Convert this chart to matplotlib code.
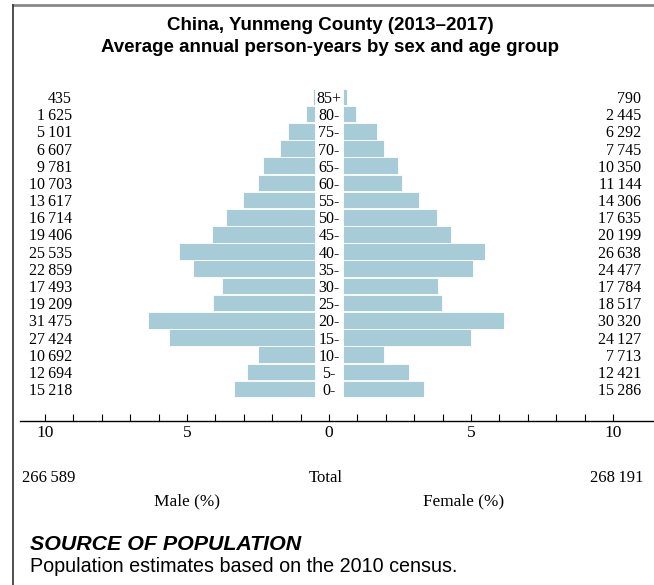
import matplotlib
matplotlib.use("Agg")
import matplotlib.pyplot as plt
import numpy as np
from matplotlib.lines import Line2D

# age groups, bottom to top
ages = ["0-", "5-", "10-", "15-", "20-", "25-", "30-", "35-", "40-",
        "45-", "50-", "55-", "60-", "65-", "70-", "75-", "80-", "85+"]
male = [15218, 12694, 10692, 27424, 31475, 19209, 17493, 22859, 25535,
        19406, 16714, 13617, 10703, 9781, 6607, 5101, 1625, 435]
female = [15286, 12421, 7713, 24127, 30320, 18517, 17784, 24477, 26638,
          20199, 17635, 14306, 11144, 10350, 7745, 6292, 2445, 790]
male_total = 266589
female_total = 268191
tick_vals = [-10, -5, 0, 5, 10]
tick_labels = ["10", "5", "0", "5", "10"]

W, H = 654, 585
serif = ["Liberation Serif", "DejaVu Serif"]
sans = ["Liberation Sans", "DejaVu Sans"]
bar_col = "#a8cbd8"
gap = 0.5  # half width of the centre label column, in % units


def fmt(v):
    return f"{v:,}".replace(",", "\u2009")


fig = plt.figure(figsize=(W / 100, H / 100), dpi=100)
ax = fig.add_axes([20 / W, 1 - 421 / H, 1 - 20 / W, (421 - 88) / H])

grand = male_total + female_total
mp = np.array(male) / grand * 100
fp = np.array(female) / grand * 100
y = np.arange(len(ages))

ax.barh(y, -mp, left=-gap, height=0.97, color=bar_col, edgecolor="white", linewidth=0.6)
ax.barh(y, fp, left=gap, height=0.97, color=bar_col, edgecolor="white", linewidth=0.6)

for i in range(len(ages)):
    ty = y[i] - 0.12
    ax.text(0, ty, ages[i], ha="center", va="center", fontsize=11.5, family=serif)
    ax.text(-9.05, ty, fmt(male[i]), ha="right", va="center", fontsize=11.5, family=serif)
    ax.text(10.99, ty, fmt(female[i]), ha="right", va="center", fontsize=11.5, family=serif)

ax.set_xlim(-10.88, 11.44)
ax.set_ylim(-1.86, 17.52)
for s in ["left", "right", "top"]:
    ax.spines[s].set_visible(False)
ax.spines["bottom"].set_linewidth(1.0)
ax.set_yticks([])
ax.set_xticks(tick_vals)
ax.set_xticklabels(tick_labels, family=serif, fontsize=12.5)
ax.set_xticks(np.arange(-10, 11), minor=True)
ax.tick_params(axis="x", which="both", direction="in", length=5, width=0.8, pad=3)

# title
fig.text(330 / W, 1 - 25 / H, "China, Yunmeng County (2013\u20132017)", ha="center", va="center",
         fontsize=13.5, fontweight="bold", family=sans)
fig.text(330 / W, 1 - 47 / H, "Average annual person-years by sex and age group", ha="center",
         va="center", fontsize=13.5, fontweight="bold", family=sans)

# totals
fig.text(22 / W, 1 - 478 / H, fmt(male_total), ha="left", va="center", fontsize=12, family=serif)
fig.text(326 / W, 1 - 478 / H, "Total", ha="center", va="center", fontsize=12, family=serif)
fig.text(643 / W, 1 - 478 / H, fmt(female_total), ha="right", va="center", fontsize=12, family=serif)
fig.text(187 / W, 1 - 501 / H, "Male (%)", ha="center", va="center", fontsize=12.4, family=serif)
fig.text(464 / W, 1 - 501 / H, "Female (%)", ha="center", va="center", fontsize=12.4, family=serif)

# source note
fig.text(30 / W, 1 - 545 / H, "SOURCE OF POPULATION", ha="left", va="center", fontsize=15.4,
         fontweight="bold", style="italic", family=sans)
fig.text(30 / W, 1 - 567 / H, "Population estimates based on the 2010 census.", ha="left",
         va="center", fontsize=14.2, family=sans)

# frame lines
fig.add_artist(Line2D([13 / W, 1], [1 - 5 / H, 1 - 5 / H], color="#888888", lw=2))
fig.add_artist(Line2D([13 / W, 13 / W], [1 - 5 / H, 0], color="#333333", lw=1.2))

fig.savefig("out.png", dpi=100)
